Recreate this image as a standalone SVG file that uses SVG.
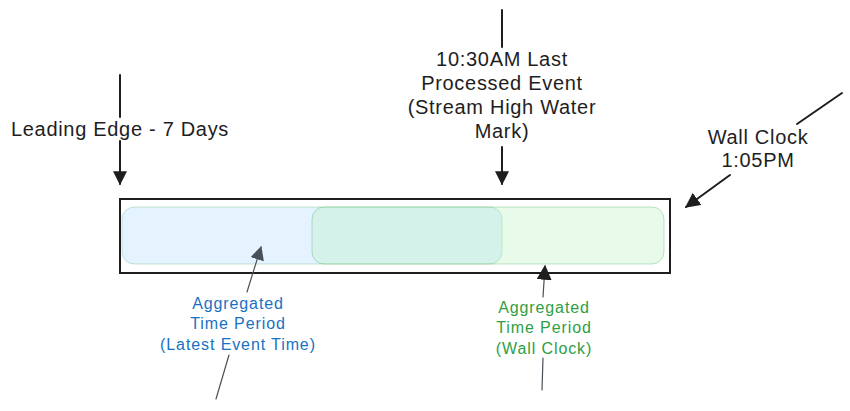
<svg xmlns="http://www.w3.org/2000/svg" width="850" height="411" viewBox="0 0 850 411">
<defs>
<style>
.lbl{font-family:"Liberation Sans","Open Sans",sans-serif;font-size:20px;letter-spacing:0.7px;fill:#1e1e1e;text-anchor:middle}
.sm{font-family:"Liberation Sans","Open Sans",sans-serif;font-size:16px;letter-spacing:0.9px;text-anchor:middle}
.ln{stroke:#1e1e1e;stroke-width:2;fill:none;stroke-linecap:round}
.gl{stroke:#495057;stroke-width:1.2;fill:none;stroke-linecap:round}
</style>
<marker id="ah" viewBox="0 0 12 12" refX="11" refY="6" markerWidth="14" markerHeight="14" markerUnits="userSpaceOnUse" orient="auto">
<path d="M0,0 L12,6 L0,12 Z" fill="#1e1e1e"/>
</marker>
<marker id="ahg" viewBox="0 0 12 12" refX="11" refY="6" markerWidth="14" markerHeight="14" markerUnits="userSpaceOnUse" orient="auto">
<path d="M0,0 L12,6 L0,12 Z" fill="#495057"/>
</marker>
<marker id="ahb" viewBox="0 0 12 12" refX="11" refY="6" markerWidth="15" markerHeight="15" markerUnits="userSpaceOnUse" orient="auto">
<path d="M0,0 L12,6 L0,12 Z" fill="#1e1e1e"/>
</marker>
</defs>
<rect width="850" height="411" fill="#ffffff"/>
<g id="bar">
<rect x="120" y="199" width="550" height="74" fill="none" stroke="#1e1e1e" stroke-width="2"/>
</g>
<g id="period-latest">
<rect x="122" y="207" width="380" height="57" rx="12" fill="#a5d8ff" fill-opacity="0.3" stroke="#2f9e44" stroke-opacity="0.25" stroke-width="1"/>
</g>
<g id="period-wall">
<rect x="312" y="207" width="352" height="57" rx="12" fill="#b2f2bb" fill-opacity="0.3" stroke="#2f9e44" stroke-opacity="0.3" stroke-width="1"/>
</g>
<g id="connectors">
<line class="ln" x1="120" y1="75" x2="120" y2="117"/>
<line class="ln" x1="120" y1="141" x2="120" y2="184" marker-end="url(#ah)"/>
<line class="ln" x1="502" y1="10" x2="502" y2="47"/>
<line class="ln" x1="502" y1="147" x2="502" y2="184" marker-end="url(#ah)"/>
<line class="ln" x1="842" y1="93" x2="797" y2="124"/>
<line class="ln" x1="730" y1="175" x2="686" y2="207" marker-end="url(#ahb)"/>
<line class="gl" x1="247" y1="292" x2="261" y2="247" marker-end="url(#ahg)"/>
<line class="gl" x1="229" y1="355" x2="216" y2="399"/>
<line class="gl" x1="543" y1="297" x2="545" y2="266" marker-end="url(#ahb)"/>
<line class="gl" x1="543" y1="358" x2="542" y2="390"/>
</g>
<g id="leading-edge">
<text class="lbl" x="120" y="136">Leading Edge - 7 Days</text>
</g>
<g id="last-processed">
<text class="lbl" x="502" y="66">10:30AM Last</text>
<text class="lbl" x="502" y="90">Processed Event</text>
<text class="lbl" x="502" y="114">(Stream High Water</text>
<text class="lbl" x="502" y="138">Mark)</text>
</g>
<g id="wall-clock">
<text class="lbl" x="758" y="144">Wall Clock</text>
<text class="lbl" x="758" y="167">1:05PM</text>
</g>
<g id="label-latest">
<text class="sm" x="238" y="309" fill="#1971c2">Aggregated</text>
<text class="sm" x="238" y="329" fill="#1971c2">Time Period</text>
<text class="sm" x="238" y="350" fill="#1971c2">(Latest Event Time)</text>
</g>
<g id="label-wall">
<text class="sm" x="544" y="313" fill="#2f9e44">Aggregated</text>
<text class="sm" x="544" y="333" fill="#2f9e44">Time Period</text>
<text class="sm" x="544" y="354" fill="#2f9e44">(Wall Clock)</text>
</g>
</svg>
